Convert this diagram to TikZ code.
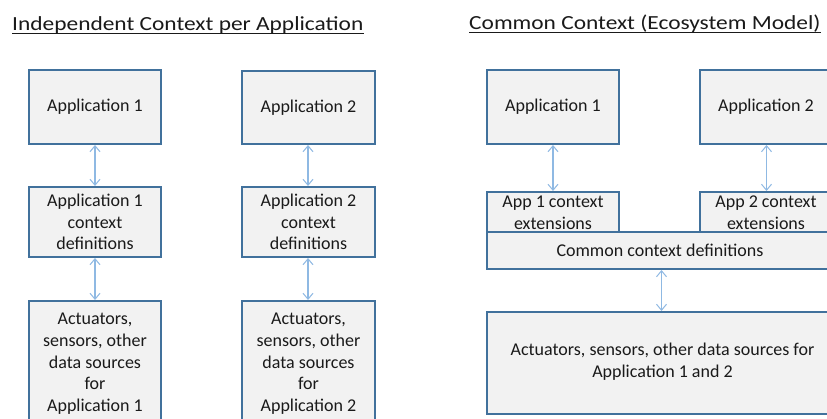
\documentclass[tikz,border=0pt]{standalone}
\usepackage{fontspec}
\setmainfont{Carlito}
\newfontfamily\ttlfont[FakeStretch=1.17]{Carlito}
\usetikzlibrary{arrows.meta}
\definecolor{boxfill}{HTML}{F2F2F2}
\definecolor{boxline}{HTML}{41719C}
\definecolor{arrcol}{HTML}{8FB9E3}
\definecolor{txt}{HTML}{1A1A1A}
\tikzset{
  blk/.style={draw=boxline, fill=boxfill, line width=1.6pt, inner sep=0pt},
  lbl/.style={font=\fontsize{18}{21.7}\selectfont, text=txt, align=center, inner sep=0pt},
  ttl/.style={font=\ttlfont\fontsize{20}{24}\selectfont, text=txt, inner sep=0pt, anchor=base west},
  link/.style={draw=arrcol, line width=1.2pt, {Straight Barb[length=6pt,width=10pt,line width=1pt]}-{Straight Barb[length=6pt,width=10pt,line width=1pt]}, shorten <=1pt, shorten >=1pt}
}
\begin{document}
\begin{tikzpicture}[x=1pt,y=-1pt]
\useasboundingbox (0,0) rectangle (827,419);
\clip (0,0) rectangle (827,419);
\fill[white] (0,0) rectangle (827,419);

% titles
\node[ttl] (t1) at (12,31) {Independent Context per Application};
\draw[txt, line width=1.2pt] ([yshift=-2.8pt]t1.base west) -- ([yshift=-2.8pt]t1.base east);
\node[ttl] (t2) at (469,30) {Common Context (Ecosystem Model)};
\draw[txt, line width=1.2pt] ([yshift=-2.8pt]t2.base west) -- ([yshift=-2.8pt]t2.base east);

% left diagram, column 1
\draw[blk] (29,70) rectangle (161,144);
\node[lbl] (la1) at (95,107) {Application 1};
\draw[blk] (29,187) rectangle (161,257);
\node[lbl] (lc1) at (95,222) {Application 1\\context\\definitions};
\draw[blk] (29,301) rectangle (161,432);
\node[lbl, anchor=north] (ls1) at (95,313) {Actuators,\\sensors, other\\data sources\\for\\Application 1};
\coordinate (a1b) at (95,144);
\coordinate (c1t) at (95,187);
\coordinate (c1b) at (95,257);
\coordinate (s1t) at (95,301);
\draw[link] (a1b) -- (c1t);
\draw[link] (c1b) -- (s1t);

% left diagram, column 2
\draw[blk] (242,71) rectangle (375,144);
\node[lbl] (la2) at (308.5,107.5) {Application 2};
\draw[blk] (242,187) rectangle (375,257);
\node[lbl] (lc2) at (308.5,222) {Application 2\\context\\definitions};
\draw[blk] (242,301) rectangle (375,432);
\node[lbl, anchor=north] (ls2) at (308.5,313) {Actuators,\\sensors, other\\data sources\\for\\Application 2};
\coordinate (a2b) at (308,144);
\coordinate (c2t) at (308,187);
\coordinate (c2b) at (308,257);
\coordinate (s2t) at (308,301);
\draw[link] (a2b) -- (c2t);
\draw[link] (c2b) -- (s2t);

% right diagram
\draw[blk] (487,70) rectangle (619,144);
\node[lbl] (ra1) at (553,107) {Application 1};
\draw[blk] (700,70) rectangle (833,144);
\node[lbl] (ra2) at (766,107) {Application 2};
\draw[blk] (487,192) rectangle (619,232);
\node[lbl] (re1) at (553,212.5) {App 1 context\\extensions};
\draw[blk] (700,192) rectangle (833,232);
\node[lbl] (re2) at (766,212.5) {App 2 context\\extensions};
\draw[blk] (487,232) rectangle (833,269);
\node[lbl] (rc) at (660,250) {Common context definitions};
\draw[blk] (487,312) rectangle (840,414);
\node[lbl] (rs) at (662.5,362) {Actuators, sensors, other data sources for\\Application 1 and 2};
\coordinate (ra1b) at (553,144);
\coordinate (re1t) at (553,192);
\coordinate (ra2b) at (766.5,144);
\coordinate (re2t) at (766.5,192);
\coordinate (rcb) at (661.5,269);
\coordinate (rst) at (661.5,312);
\draw[link] (ra1b) -- (re1t);
\draw[link] (ra2b) -- (re2t);
\draw[link] (rcb) -- (rst);
\end{tikzpicture}
\end{document}
